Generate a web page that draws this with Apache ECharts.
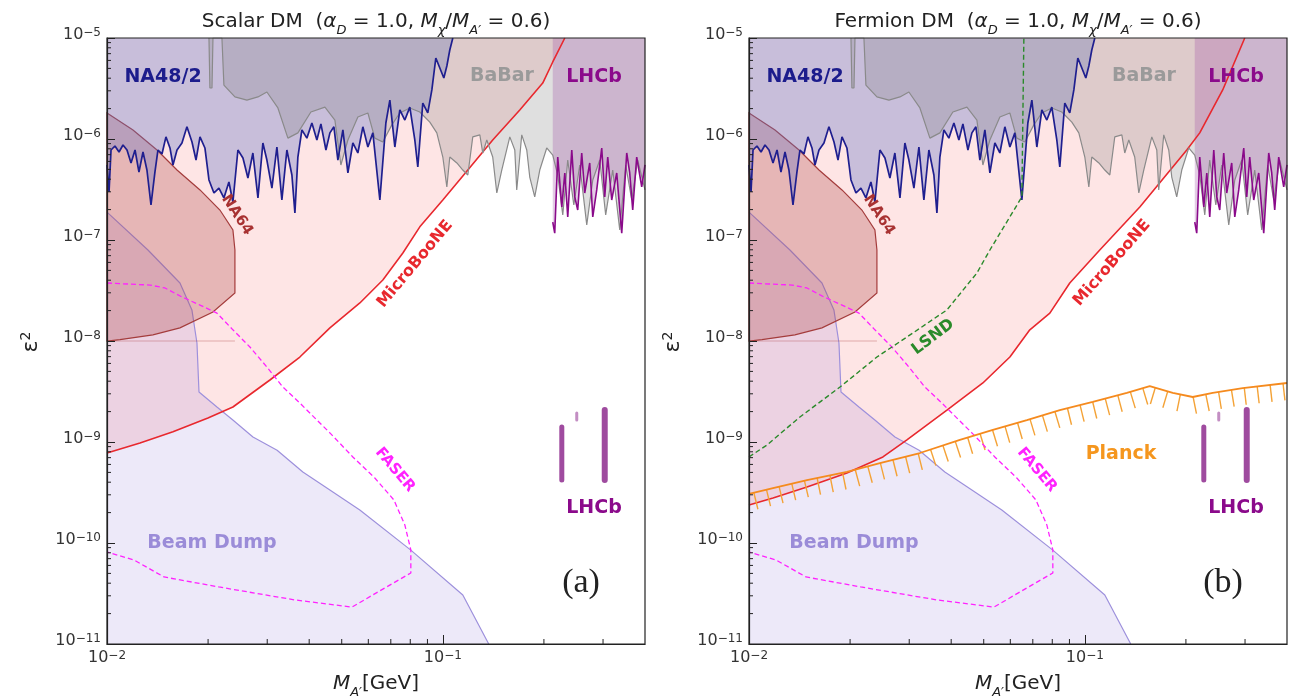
<!DOCTYPE html>
<html><head><meta charset="utf-8">
<script src="https://cdn.jsdelivr.net/npm/echarts@6/dist/echarts.min.js"></script>
<style>html,body{margin:0;padding:0;background:#fff}#c{width:1291px;height:698px}</style>
</head><body><div id="c"></div>
<script>
// ---------- data (M_A' in GeV, epsilon^2) ----------
const xMajorLabels = [0.01, 0.1];
const yMajorLabels = [1e-11, 1e-10, 1e-9, 1e-8, 1e-7, 1e-6, 1e-5];
const xMinorTicks = [0.02,0.03,0.04,0.05,0.06,0.07,0.08,0.09,0.2,0.3];
const yMinorTicks = [2e-11,3e-11,4e-11,5e-11,6e-11,7e-11,8e-11,9e-11,
  2e-10,3e-10,4e-10,5e-10,6e-10,7e-10,8e-10,9e-10,
  2e-9,3e-9,4e-9,5e-9,6e-9,7e-9,8e-9,9e-9,
  2e-8,3e-8,4e-8,5e-8,6e-8,7e-8,8e-8,9e-8,
  2e-7,3e-7,4e-7,5e-7,6e-7,7e-7,8e-7,9e-7,
  2e-6,3e-6,4e-6,5e-6,6e-6,7e-6,8e-6,9e-6];

const na48 = [[0.01,5.53e-7],[0.01014,2.99e-7],[0.01028,7.78e-7],[0.01056,8.53e-7],[0.01086,7.44e-7],[0.01116,8.72e-7],[0.01147,7.78e-7],[0.01179,5.79e-7],[0.01212,7.78e-7],[0.01245,4.71e-7],[0.0128,7.44e-7],[0.01315,4.93e-7],[0.01352,2.22e-7],[0.01389,4.71e-7],[0.01418,7.78e-7],[0.01458,7.11e-7],[0.01498,1.05e-6],[0.0154,8.15e-7],[0.01572,5.53e-7],[0.01616,7.78e-7],[0.01672,9.13e-7],[0.0173,1.32e-6],[0.01791,9.34e-7],[0.01841,6.19e-7],[0.01892,1.05e-6],[0.01957,8.15e-7],[0.02012,3.93e-7],[0.02082,2.92e-7],[0.02154,3.27e-7],[0.02229,2.61e-7],[0.02307,3.75e-7],[0.02371,2.38e-7],[0.02454,7.78e-7],[0.0254,6.48e-7],[0.02628,4.11e-7],[0.02719,7.27e-7],[0.02815,2.61e-7],[0.02912,9.13e-7],[0.02993,6.19e-7],[0.03098,3.27e-7],[0.03206,8.33e-7],[0.03317,2.49e-7],[0.03433,7.78e-7],[0.03553,4.4e-7],[0.03627,1.85e-7],[0.03702,6.63e-7],[0.03805,1.23e-6],[0.03937,1.02e-6],[0.04075,1.44e-6],[0.04217,9.78e-7],[0.04335,1.41e-6],[0.04487,7.78e-7],[0.04611,1.15e-6],[0.04739,1.32e-6],[0.0487,6.19e-7],[0.0504,1.23e-6],[0.05216,4.61e-7],[0.05397,9.13e-7],[0.05585,7.27e-7],[0.0578,1.32e-6],[0.05982,8.33e-7],[0.0619,1.15e-6],[0.06494,2.49e-7],[0.06767,1.44e-6],[0.06955,2.43e-6],[0.07197,8.33e-7],[0.07447,1.94e-6],[0.07707,1.54e-6],[0.07975,2.07e-6],[0.08253,9.78e-7],[0.08424,5.28e-7],[0.08717,2.27e-6],[0.0902,1.81e-6],[0.09276,3.06e-6],[0.09532,6.34e-6],[0.09797,5.05e-6],[0.1007,4.02e-6],[0.1028,5.28e-6],[0.1049,7.61e-6],[0.1071,1e-5]];

const babar = [[0.02012,1e-5],[0.02025,3.2e-6],[0.02054,3.2e-6],[0.02068,1e-5],[0.02199,1e-5],[0.02229,3.42e-6],[0.02404,2.61e-6],[0.0261,2.43e-6],[0.02815,2.61e-6],[0.02993,2.92e-6],[0.03228,2.03e-6],[0.03457,1.02e-6],[0.03702,1.15e-6],[0.04047,1.85e-6],[0.04456,2.07e-6],[0.04771,1.54e-6],[0.04971,5.53e-7],[0.05216,9.78e-7],[0.05585,1.65e-6],[0.05982,1.81e-6],[0.06274,1.02e-6],[0.06628,9.34e-7],[0.0705,1.38e-6],[0.07447,1.81e-6],[0.07975,2.03e-6],[0.08541,1.85e-6],[0.09148,1.47e-6],[0.09597,1.15e-6],[0.1,6.63e-7],[0.1028,3.35e-7],[0.1049,6.63e-7],[0.1101,5.79e-7],[0.1147,4.93e-7],[0.1187,4.4e-7],[0.1228,1.05e-6],[0.1289,1.1e-6],[0.1315,7.27e-7],[0.1352,9.78e-7],[0.1408,6.63e-7],[0.1448,2.92e-7],[0.1498,4.93e-7],[0.1583,1.05e-6],[0.1638,7.78e-7],[0.166,3.13e-7],[0.1718,1.1e-6],[0.1778,7.78e-7],[0.1815,4.2e-7],[0.1878,2.67e-7],[0.1944,4.93e-7],[0.2039,8.15e-7],[0.2125,6.94e-7],[0.2199,4.4e-7],[0.2276,1.77e-7],[0.2355,6.19e-7],[0.2455,2.22e-7],[0.2557,5.53e-7],[0.2683,1.41e-7],[0.2796,3.93e-7],[0.2933,6.19e-7],[0.3055,1.77e-7],[0.3206,4.93e-7],[0.3364,1.26e-7],[0.3504,5.53e-7],[0.3652,2.49e-7],[0.3805,6.19e-7],[0.4,3.13e-7]];

const lhcb = [[0.2125,1.5e-7],[0.2154,1.17e-7],[0.2199,6.63e-7],[0.2261,2.12e-7],[0.2308,4.61e-7],[0.2355,1.69e-7],[0.2421,7.78e-7],[0.2471,2.67e-7],[0.2522,1.98e-7],[0.2592,7.27e-7],[0.2646,2.92e-7],[0.2738,5.79e-7],[0.2796,1.69e-7],[0.2873,3.13e-7],[0.2973,8.15e-7],[0.3035,2.67e-7],[0.3098,6.63e-7],[0.3184,2.49e-7],[0.3295,4.61e-7],[0.341,1.17e-7],[0.3529,7.27e-7],[0.3602,4.61e-7],[0.3677,1.98e-7],[0.3779,6.63e-7],[0.3911,3.35e-7],[0.4,5.53e-7]];

const lhcbIslandA = [[0.2261,1.41e-9],[0.2261,4.2e-10]];
const lhcbIslandB = [[0.3035,2.07e-9],[0.3035,4.2e-10]];
const lhcbIslandC = [[0.2505,1.94e-9],[0.2505,1.65e-9]];

const microScalar = [[0.01,7.78e-10],[0.01254,9.78e-10],[0.01572,1.26e-9],[0.01998,1.73e-9],[0.02371,2.22e-9],[0.03056,4.11e-9],[0.03752,6.94e-9],[0.04611,1.35e-8],[0.05662,2.38e-8],[0.06628,4.02e-8],[0.07603,7.44e-8],[0.08541,1.35e-7],[0.1,2.49e-7],[0.1187,4.93e-7],[0.1408,9.78e-7],[0.1695,1.94e-6],[0.1984,3.58e-6],[0.2125,5.79e-6],[0.2308,1e-5]];
const microFermion = [[0.01,2.38e-10],[0.01179,2.79e-10],[0.01488,3.58e-10],[0.01957,4.93e-10],[0.02505,7.11e-10],[0.02953,1.05e-9],[0.03885,2.07e-9],[0.04971,3.84e-9],[0.05982,6.94e-9],[0.06859,1.29e-8],[0.07868,1.89e-8],[0.0902,3.75e-8],[0.1108,7.96e-8],[0.1458,2.12e-7],[0.2012,7.78e-7],[0.2199,1.15e-6],[0.2574,3.06e-6],[0.2994,1e-5]];

const beamDump = [[0.01,1.89e-7],[0.01324,7.96e-8],[0.01649,3.75e-8],[0.0179,2.03e-8],[0.01853,9.55e-9],[0.01879,3.13e-9],[0.02125,2.22e-9],[0.0237,1.65e-9],[0.0272,1.12e-9],[0.0321,8.3e-10],[0.0383,5.05e-10],[0.0461,3.35e-10],[0.0566,2.12e-10],[0.0803,8.5e-11],[0.1147,3.06e-11],[0.137,1e-11]];

const na64 = [[0.01,1.81e-6],[0.01195,1.23e-6],[0.01409,7.78e-7],[0.01616,4.93e-7],[0.01892,3.13e-7],[0.02169,1.98e-7],[0.02371,1.26e-7],[0.02404,7.96e-8],[0.02404,2.99e-8],[0.02068,1.94e-8],[0.01649,1.35e-8],[0.0137,1.15e-8],[0.01093,1.03e-8],[0.01,1.0e-8]];
const na64Edge = [[0.01,1.0e-8],[0.02404,1.0e-8]];

const faser = [[0.01,3.75e-8],[0.01343,3.58e-8],[0.01488,3.35e-8],[0.01672,2.73e-8],[0.01892,2.27e-8],[0.02125,1.89e-8],[0.02371,1.29e-8],[0.02664,8.72e-9],[0.02993,5.53e-9],[0.0334,3.5e-9],[0.03752,2.43e-9],[0.04217,1.65e-9],[0.04611,1.23e-9],[0.05397,7.11e-10],[0.06274,4.4e-10],[0.07149,2.67e-10],[0.07707,1.51e-10],[0.0803,8.53e-11],[0.0803,5.05e-11],[0.05361,2.32e-11],[0.03627,2.73e-11],[0.02154,3.67e-11],[0.01478,4.61e-11],[0.01203,6.79e-11],[0.01,8.15e-11]];

const lsnd = [[0.01,7.11e-10],[0.01131,9.34e-10],[0.01418,1.77e-9],[0.01866,3.5e-9],[0.02404,6.94e-9],[0.03077,1.2e-8],[0.03885,2.03e-8],[0.04771,4.71e-8],[0.05216,7.96e-8],[0.06494,2.67e-7],[0.06584,1e-5]];

const planck = [[0.01,3.06e-10],[0.01179,3.5e-10],[0.01488,4.2e-10],[0.01957,5.05e-10],[0.02454,6.19e-10],[0.03228,7.78e-10],[0.04246,1.05e-9],[0.05324,1.32e-9],[0.06721,1.65e-9],[0.08424,2.07e-9],[0.1056,2.49e-9],[0.1334,3.06e-9],[0.1561,3.58e-9],[0.1828,3.06e-9],[0.2096,2.79e-9],[0.2404,3.06e-9],[0.2953,3.42e-9],[0.4,3.84e-9]];

// ---------- helpers ----------
const FF = 'DejaVu Sans';
function powFmt(v){
  const e = Math.log10(v), r = Math.round(e);
  if (Math.abs(e - r) > 1e-6) return '';
  return '{b|10}{s|' + (r < 0 ? '\u2212' : '') + Math.abs(r) + '}';
}
const tickRich = {
  b:{fontSize:16, lineHeight:22, verticalAlign:'top', fontFamily:FF, color:'#333'},
  s:{fontSize:12, lineHeight:12, verticalAlign:'top', fontFamily:FF, color:'#333'}
};
function lineS(gi, data, color, width, z, extra){
  return Object.assign({type:'line', xAxisIndex:gi, yAxisIndex:gi, data, symbol:'none', silent:true, z,
    lineStyle:{color, width}}, extra||{});
}
function fillS(gi, data, color, origin, z){
  return {type:'line', xAxisIndex:gi, yAxisIndex:gi, data, symbol:'none', silent:true, z,
    lineStyle:{width:0, opacity:0}, areaStyle:{color, origin, opacity:1}};
}
function polyS(gi, pts, fill, stroke, z){
  return {type:'custom', xAxisIndex:gi, yAxisIndex:gi, coordinateSystem:'cartesian2d', z, silent:true,
    data:[pts[0]], renderItem:(params, api)=>{
      if (params.dataIndex !== 0) return null;
      return {type:'polygon', shape:{points: pts.map(p=>api.coord(p))}, style:{fill, stroke, lineWidth:1.2}};
    }};
}
function minorX(gi){
  return {type:'custom', xAxisIndex:gi, yAxisIndex:gi, coordinateSystem:'cartesian2d', z:50, silent:true,
    data: xMinorTicks.map(v=>[v, yMajorLabels[0]]),
    renderItem:(params, api)=>{ const p = api.coord([api.value(0), api.value(1)]);
      return {type:'line', shape:{x1:p[0], y1:p[1], x2:p[0], y2:p[1]-5}, style:{stroke:'#222', lineWidth:1}}; }};
}
function minorY(gi){
  return {type:'custom', xAxisIndex:gi, yAxisIndex:gi, coordinateSystem:'cartesian2d', z:50, silent:true,
    data: yMinorTicks.map(v=>[xMajorLabels[0], v]),
    renderItem:(params, api)=>{ const p = api.coord([api.value(0), api.value(1)]);
      return {type:'line', shape:{x1:p[0], y1:p[1], x2:p[0]+4, y2:p[1]}, style:{stroke:'#222', lineWidth:1}}; }};
}
function hatchS(gi, pts, z){
  return {type:'custom', xAxisIndex:gi, yAxisIndex:gi, coordinateSystem:'cartesian2d', z, silent:true,
    data:[pts[0]], renderItem:(params, api)=>{
      const P = pts.map(p=>api.coord(p)); const children = []; const step = 13, len = 17; let carry = 5;
      for (let i=0;i<P.length-1;i++){
        const dx = P[i+1][0]-P[i][0], dy = P[i+1][1]-P[i][1], L = Math.hypot(dx,dy);
        const ux = dx/L, uy = dy/L, nx = -uy, ny = ux; let d = carry;
        while (d < L){ const px = P[i][0]+ux*d, py = P[i][1]+uy*d;
          children.push({type:'line', shape:{x1:px,y1:py,x2:px+nx*len,y2:py+ny*len}, style:{stroke:'#f4a236', lineWidth:1.4}});
          d += step; }
        carry = d - L;
      }
      return {type:'group', children};
    }};
}
function panel(gi, micro){
  return [
    fillS(gi, micro, 'rgba(250,160,160,0.28)', 'end', 1),
    lineS(gi, beamDump, '#9d90dc', 1.2, 2, {areaStyle:{color:'rgba(130,100,210,0.2)', origin:'start'}}),
    polyS(gi, na64, 'rgba(170,60,60,0.28)', '#a43c3c', 3),
    lineS(gi, na64Edge, 'rgba(170,60,60,0.35)', 1, 3),
    fillS(gi, na48, 'rgba(100,118,198,0.35)', 'end', 4),
    fillS(gi, babar, 'rgba(128,128,128,0.25)', 'end', 5),
    fillS(gi, lhcb, 'rgba(163,86,170,0.3)', 'end', 6),
    lineS(gi, micro, '#e8282e', 1.6, 10),
    lineS(gi, babar, '#8a8a8a', 1.2, 10),
    lineS(gi, na48, '#1f1f8f', 1.7, 11),
    lineS(gi, lhcb, '#8a0a8a', 1.6, 11),
    lineS(gi, faser, '#ff22ff', 1.3, 12, {lineStyle:{color:'#ff22ff', width:1.3, type:[5,3]}}),
    lineS(gi, lhcbIslandA, 'rgba(135,30,135,0.8)', 5, 12, {lineStyle:{color:'rgba(135,30,135,0.8)', width:5, cap:'round'}}),
    lineS(gi, lhcbIslandB, 'rgba(135,30,135,0.8)', 6, 12, {lineStyle:{color:'rgba(135,30,135,0.8)', width:6, cap:'round'}}),
    lineS(gi, lhcbIslandC, 'rgba(135,30,135,0.5)', 3, 12, {lineStyle:{color:'rgba(135,30,135,0.5)', width:3, cap:'round'}}),
    minorX(gi), minorY(gi)
  ];
}
const series = panel(0, microScalar).concat(panel(1, microFermion)).concat([
  lineS(1, lsnd, '#2a8a2a', 1.4, 12, {lineStyle:{color:'#2a8a2a', width:1.4, type:[5,3]}}),
  hatchS(1, planck, 12),
  lineS(1, planck, '#f58a1e', 1.8, 13)
]);

function axisX(gi){ return {gridIndex:gi, type:'log', logBase:10, min:0.01, max:0.4, z:50,
  axisLine:{lineStyle:{color:'#222', width:1.2}}, axisTick:{inside:true, length:9, lineStyle:{color:'#222', width:1}},
  splitLine:{show:false}, minorTick:{show:false},
  axisLabel:{formatter:powFmt, rich:tickRich, margin:6, showMaxLabel:false}}; }
function axisY(gi){ return {gridIndex:gi, type:'log', logBase:10, min:1e-11, max:1e-5, z:50,
  axisLine:{lineStyle:{color:'#222', width:1.2}}, axisTick:{inside:true, length:8, lineStyle:{color:'#222', width:1}},
  splitLine:{show:false}, minorTick:{show:false},
  axisLabel:{formatter:powFmt, rich:tickRich, margin:6}}; }

const titleRich = {
  n:{fontSize:20, lineHeight:30, fontFamily:FF, fill:'#222'},
  i:{fontSize:20, lineHeight:30, fontFamily:FF, fontStyle:'italic', fill:'#222'},
  s:{fontSize:13, lineHeight:14, verticalAlign:'bottom', fontFamily:FF, fontStyle:'italic', fill:'#222'}
};
function txt(t, x, y, color, size, rot, extra){
  return Object.assign({type:'text', x, y, rotation:(rot||0)*Math.PI/180, z:100, silent:true,
    style:{text:t, fill:color, font:'bold '+size+'px "DejaVu Sans"', align:'center', verticalAlign:'middle'}}, extra||{});
}
const epsRich = {e:{fontSize:22, lineHeight:24, fontFamily:FF, fill:'#222'}, p:{fontSize:14, lineHeight:12, verticalAlign:'top', fontFamily:FF, fill:'#222'}};
const graphic = [
  {type:'rect', shape:{x:107,y:38,width:538,height:606}, style:{fill:'none', stroke:'#222', lineWidth:1.2}, z:100, silent:true},
  {type:'rect', shape:{x:749,y:38,width:538,height:606}, style:{fill:'none', stroke:'#222', lineWidth:1.2}, z:100, silent:true},
  {type:'text', x:376, y:22, z:100, silent:true, style:{text:'{n|Scalar DM  (}{i|α}{s|D}{n| = 1.0, }{i|M}{s|χ}{n|/}{i|M}{s|A′}{n| = 0.6)}', rich:titleRich, align:'center', verticalAlign:'middle'}},
  {type:'text', x:1018, y:22, z:100, silent:true, style:{text:'{n|Fermion DM  (}{i|α}{s|D}{n| = 1.0, }{i|M}{s|χ}{n|/}{i|M}{s|A′}{n| = 0.6)}', rich:titleRich, align:'center', verticalAlign:'middle'}},
  {type:'text', x:376, y:684, z:100, silent:true, style:{text:'{i|M}{s|A′}{n|[GeV]}', rich:titleRich, align:'center', verticalAlign:'middle'}},
  {type:'text', x:1018, y:684, z:100, silent:true, style:{text:'{i|M}{s|A′}{n|[GeV]}', rich:titleRich, align:'center', verticalAlign:'middle'}},
  {type:'text', x:31, y:342, rotation:Math.PI/2, z:100, silent:true, style:{text:'{e|ε}{p|2}', align:'center', verticalAlign:'middle', rich:epsRich}},
  {type:'text', x:673, y:342, rotation:Math.PI/2, z:100, silent:true, style:{text:'{e|ε}{p|2}', align:'center', verticalAlign:'middle', rich:epsRich}},
  // panel (a) labels
  txt('NA48/2', 163, 77, '#1c1c8c', 19),
  txt('BaBar', 502, 76, '#9a9a9a', 19),
  txt('LHCb', 594, 77, '#8b0a8b', 19),
  txt('NA64', 237, 215, '#a83232', 15, -57),
  txt('MicroBooNE', 415, 264, '#e8282e', 16, 50),
  txt('FASER', 395, 470, '#ff22ff', 15, -50),
  txt('Beam Dump', 212, 543, '#9b8cd8', 19),
  txt('LHCb', 594, 508, '#8b0a8b', 19),
  {type:'text', x:581, y:583, z:100, silent:true, style:{text:'(a)', fill:'#222', font:'34px "Liberation Serif"', align:'center', verticalAlign:'middle'}},
  // panel (b) labels
  txt('NA48/2', 805, 77, '#1c1c8c', 19),
  txt('BaBar', 1144, 76, '#9a9a9a', 19),
  txt('LHCb', 1236, 77, '#8b0a8b', 19),
  txt('NA64', 879, 215, '#a83232', 15, -57),
  txt('MicroBooNE', 1112, 263, '#e8282e', 16, 49),
  txt('FASER', 1037, 470, '#ff22ff', 15, -50),
  txt('LSND', 933, 337, '#2a8a2a', 16, 37),
  txt('Planck', 1121, 454, '#f5961e', 19),
  txt('Beam Dump', 854, 543, '#9b8cd8', 19),
  txt('LHCb', 1236, 508, '#8b0a8b', 19),
  {type:'text', x:1223, y:583, z:100, silent:true, style:{text:'(b)', fill:'#222', font:'34px "Liberation Serif"', align:'center', verticalAlign:'middle'}}
];

const chart = echarts.init(document.getElementById('c'), null, {renderer:'canvas'});
chart.setOption({
  animation:false,
  backgroundColor:'#fff',
  grid:[{left:107, top:38, width:538, height:606, show:false},{left:749, top:38, width:538, height:606, show:false}],
  xAxis:[axisX(0), axisX(1)],
  yAxis:[axisY(0), axisY(1)],
  series,
  graphic
});
</script></body></html>
